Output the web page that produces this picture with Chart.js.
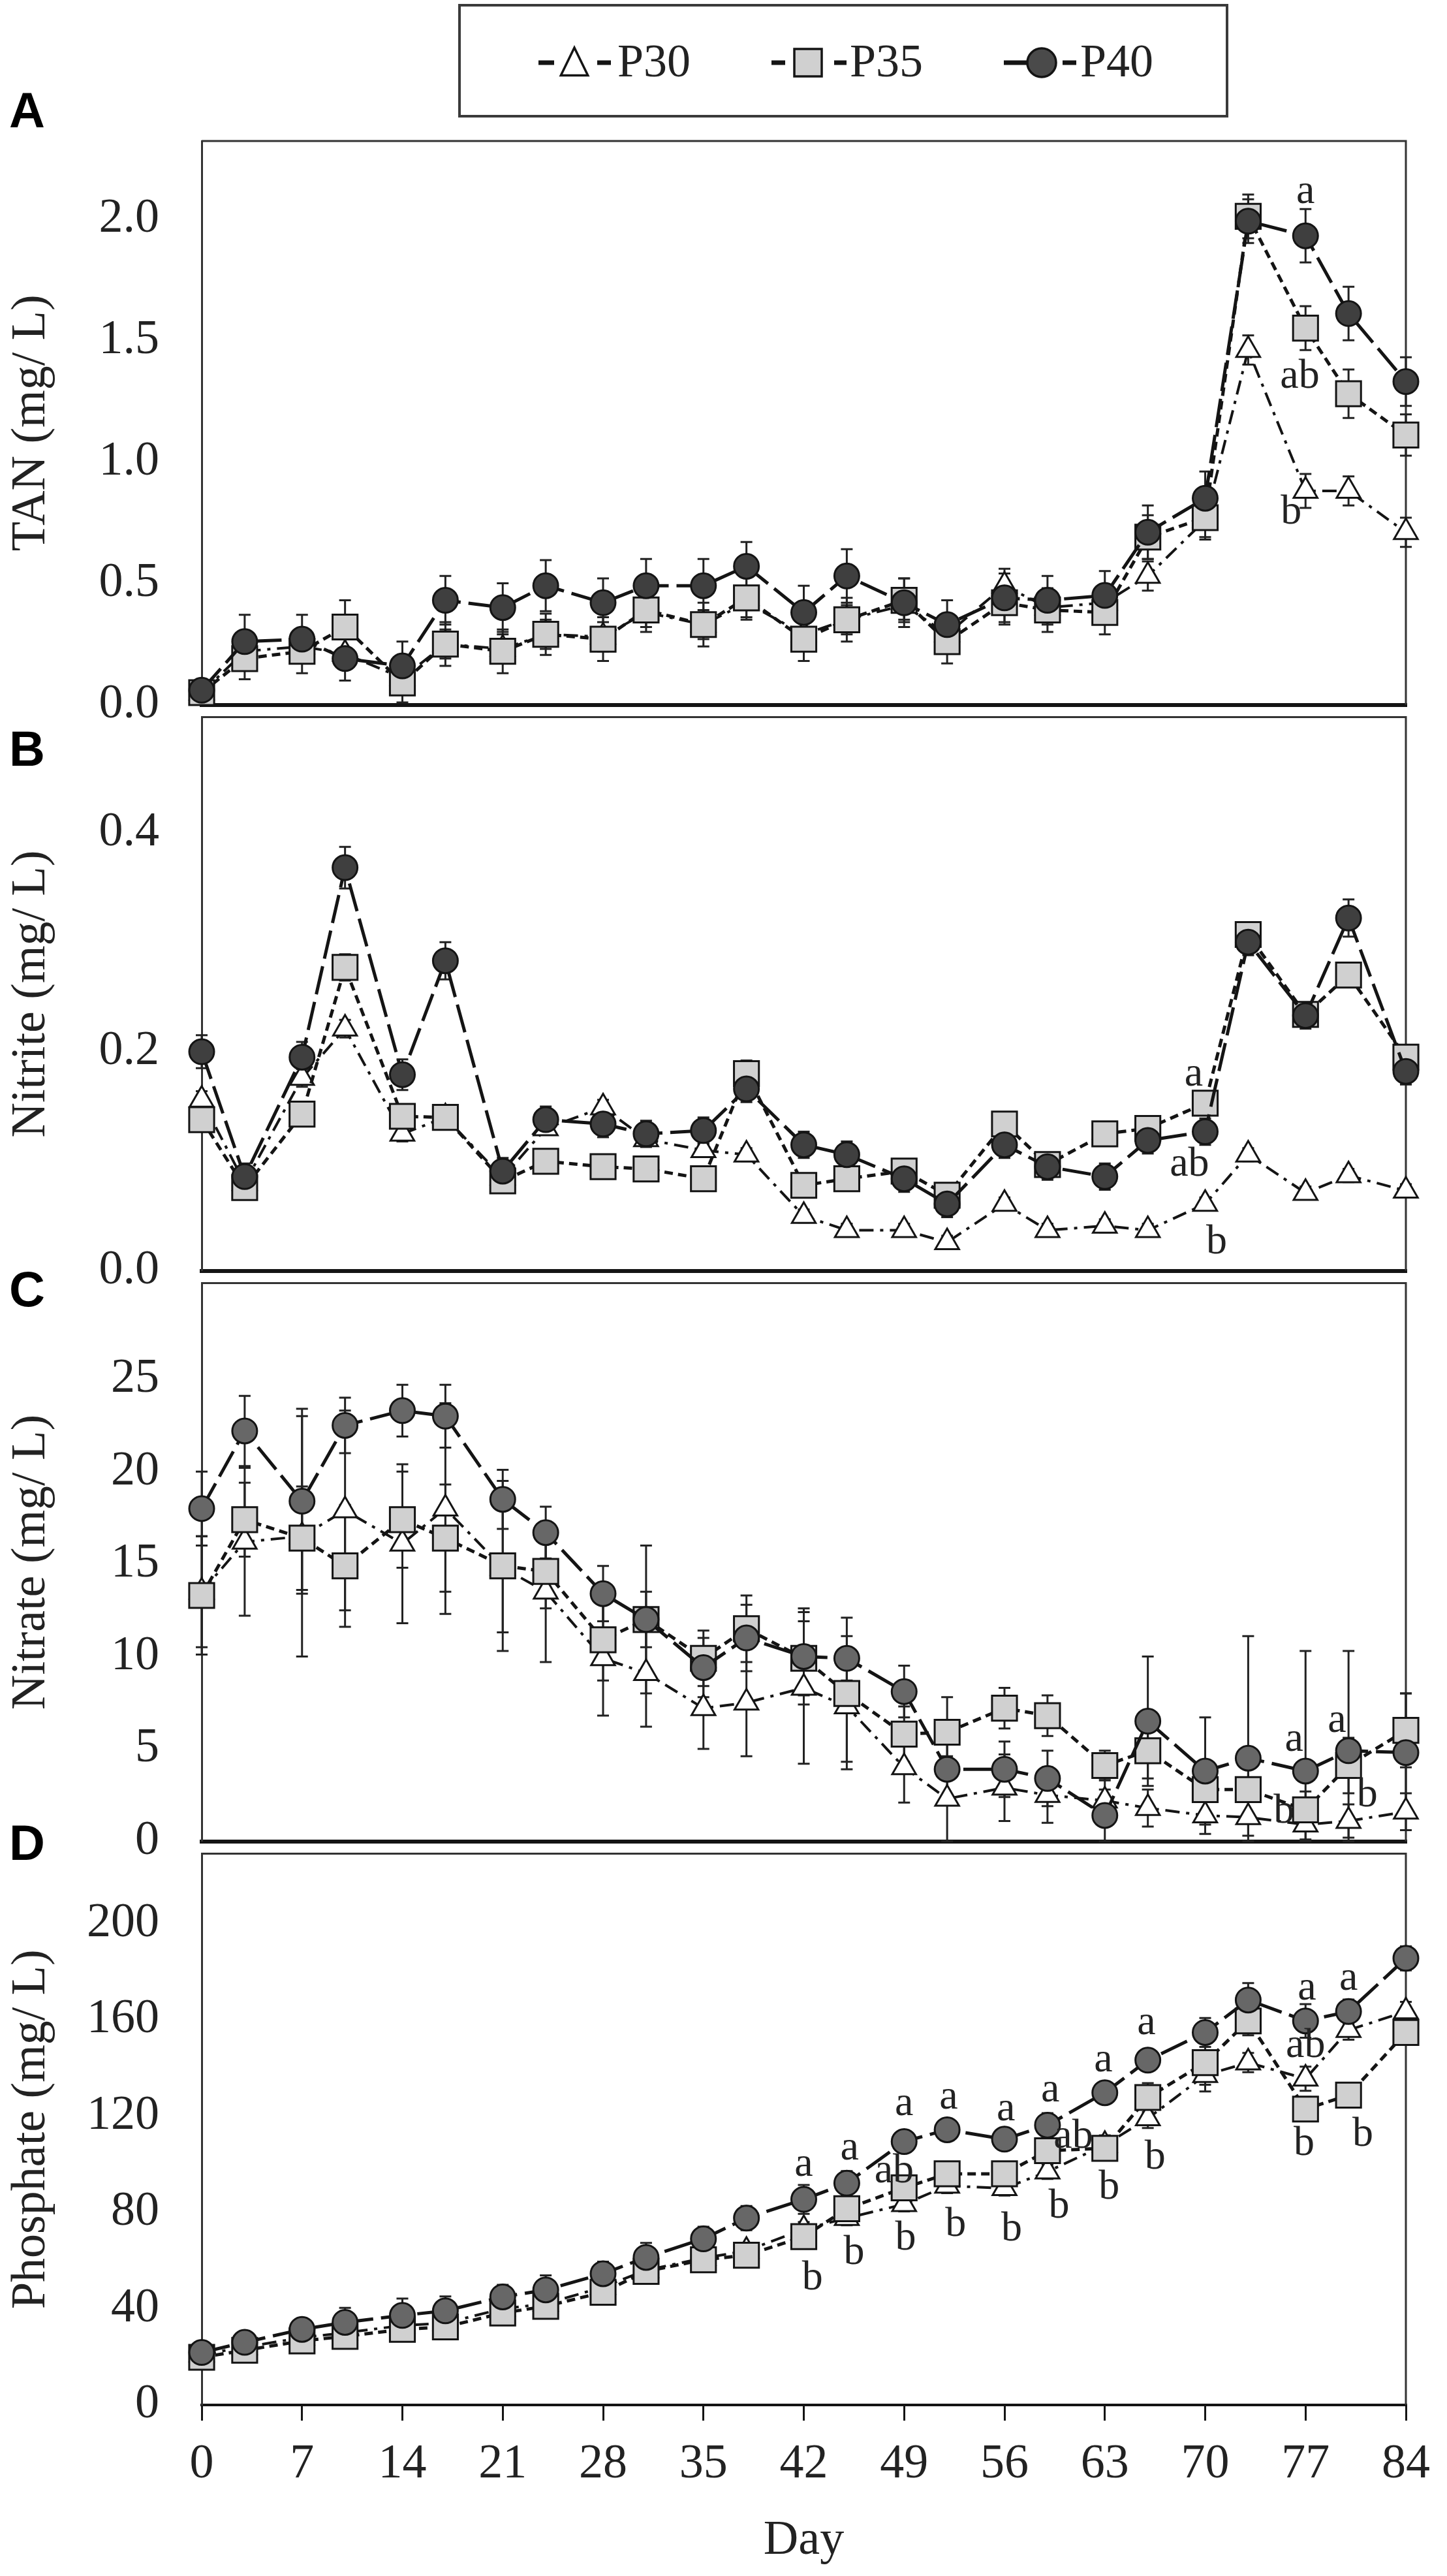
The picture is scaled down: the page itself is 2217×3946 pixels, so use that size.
<!DOCTYPE html>
<html lang="en">
<head>
    <meta charset="UTF-8">
    <title>TAN, nitrite, nitrate and phosphate over 84 days</title>
    <script src="https://cdn.jsdelivr.net/npm/chart.js@4.4.1/dist/chart.umd.min.js"></script>
    <style>
        * { margin: 0; padding: 0; box-sizing: border-box; }
        body { background: #fff; }
        #page { position: relative; width: 2217px; height: 3946px; overflow: hidden; background: #fff; }
        #page canvas { position: absolute; left: 0; }
    </style>
</head>
<body>
<div id="page"></div>
<script>
    // sampling days (x) and axis ticks
    const days = [0, 3, 7, 10, 14, 17, 21, 24, 28, 31, 35, 38, 42, 45, 49, 52, 56, 59, 63, 66, 70, 73, 77, 80, 84];
    const dayTicks = [0, 7, 14, 21, 28, 35, 42, 49, 56, 63, 70, 77, 84];
    const seriesNames = ['P30', 'P35', 'P40'];

    // A - TAN (mg/L)
    const tanTicks = [0, 0.5, 1, 1.5, 2];
    const tanP30 = [0.05, 0.22, 0.24, 0.21, 0.11, 0.25, 0.23, 0.29, 0.28, 0.38, 0.33, 0.42, 0.29, 0.35, 0.41, 0.29, 0.49, 0.40, 0.42, 0.53, 0.76, 1.46, 0.88, 0.88, 0.71];
    const tanP35 = [0.05, 0.19, 0.22, 0.32, 0.09, 0.25, 0.22, 0.29, 0.27, 0.39, 0.33, 0.44, 0.27, 0.35, 0.43, 0.26, 0.42, 0.39, 0.38, 0.69, 0.77, 2.01, 1.55, 1.28, 1.11];
    const tanP40 = [0.06, 0.26, 0.27, 0.19, 0.16, 0.43, 0.40, 0.49, 0.42, 0.49, 0.49, 0.57, 0.38, 0.53, 0.42, 0.33, 0.44, 0.43, 0.45, 0.71, 0.85, 1.99, 1.93, 1.61, 1.33];
    const tanErr30 = [0.03, 0.06, 0.06, 0.06, 0.05, 0.06, 0.06, 0.06, 0.06, 0.06, 0.06, 0.06, 0.06, 0.06, 0.06, 0.06, 0.07, 0.06, 0.06, 0.06, 0.07, 0.06, 0.07, 0.06, 0.06];
    const tanErr35 = [0.03, 0.085, 0.09, 0.11, 0.08, 0.09, 0.09, 0.085, 0.09, 0.09, 0.09, 0.09, 0.09, 0.09, 0.09, 0.09, 0.09, 0.09, 0.09, 0.09, 0.09, 0.09, 0.09, 0.10, 0.085];
    const tanErr40 = [0.04, 0.11, 0.10, 0.09, 0.10, 0.10, 0.10, 0.105, 0.10, 0.11, 0.11, 0.10, 0.11, 0.11, 0.10, 0.10, 0.10, 0.10, 0.10, 0.11, 0.11, 0.09, 0.11, 0.11, 0.10];
    const tanLetters = [
        { day: 77, value: 2.11, text: 'a' },
        { day: 76.6, value: 1.35, text: 'ab' },
        { day: 76, value: 0.79, text: 'b' }
    ];

    // B - Nitrite (mg/L)
    const nitriteTicks = [0, 0.2, 0.4];
    const nitriteP30 = [0.156, 0.080, 0.176, 0.221, 0.125, 0.140, 0.085, 0.130, 0.149, 0.120, 0.110, 0.106, 0.050, 0.037, 0.037, 0.026, 0.061, 0.037, 0.041, 0.037, 0.061, 0.106, 0.071, 0.087, 0.073];
    const nitriteP35 = [0.138, 0.076, 0.143, 0.277, 0.141, 0.140, 0.082, 0.100, 0.095, 0.093, 0.084, 0.180, 0.078, 0.084, 0.091, 0.069, 0.134, 0.097, 0.125, 0.130, 0.153, 0.307, 0.234, 0.270, 0.195];
    const nitriteP40 = [0.200, 0.086, 0.195, 0.368, 0.179, 0.283, 0.091, 0.138, 0.134, 0.125, 0.128, 0.166, 0.115, 0.106, 0.084, 0.061, 0.115, 0.095, 0.086, 0.119, 0.127, 0.300, 0.233, 0.322, 0.182];
    const nitriteErr30 = [0.008, 0.006, 0.008, 0.008, 0.007, 0.006, 0.006, 0.006, 0.007, 0.006, 0.006, 0.006, 0.006, 0.006, 0.006, 0.006, 0.006, 0.006, 0.006, 0.006, 0.006, 0.006, 0.006, 0.006, 0.006];
    const nitriteErr35 = [0.010, 0.010, 0.010, 0.012, 0.010, 0.010, 0.010, 0.010, 0.010, 0.010, 0.010, 0.012, 0.010, 0.010, 0.010, 0.010, 0.010, 0.010, 0.010, 0.010, 0.010, 0.010, 0.010, 0.010, 0.010];
    const nitriteErr40 = [0.015, 0.012, 0.014, 0.019, 0.014, 0.017, 0.012, 0.012, 0.012, 0.012, 0.012, 0.012, 0.012, 0.012, 0.012, 0.012, 0.012, 0.012, 0.012, 0.012, 0.012, 0.012, 0.012, 0.017, 0.012];
    const nitriteLetters = [
        { day: 69.2, value: 0.179, text: 'a' },
        { day: 68.9, value: 0.097, text: 'ab' },
        { day: 70.8, value: 0.026, text: 'b' }
    ];

    // C - Nitrate (mg/L)
    const nitrateTicks = [0, 5, 10, 15, 20, 25];
    const nitrateP30 = [13.5, 16.2, 16.5, 17.9, 16.1, 18.0, 14.8, 13.5, 9.9, 9.1, 7.2, 7.5, 8.3, 7.3, 4.0, 2.3, 2.9, 2.5, 2.2, 1.8, 1.4, 1.3, 0.9, 1.1, 1.6];
    const nitrateP35 = [13.3, 17.4, 16.4, 14.9, 17.4, 16.4, 14.9, 14.6, 10.9, 12.0, 9.9, 11.5, 9.9, 8.0, 5.8, 5.9, 7.2, 6.8, 4.1, 4.9, 2.8, 2.8, 1.7, 4.1, 6.0];
    const nitrateP40 = [18.0, 22.2, 18.4, 22.5, 23.3, 23.0, 18.5, 16.7, 13.4, 12.0, 9.4, 11.0, 10.0, 9.9, 8.1, 3.9, 3.9, 3.4, 1.4, 6.5, 3.8, 4.5, 3.8, 4.9, 4.8];
    const nitrateErr30 = [3.0, 4.0, 6.5, 5.4, 4.3, 5.7, 3.5, 3.8, 3.1, 2.9, 2.2, 2.9, 4.1, 3.0, 1.9, 2.3, 1.8, 1.5, 1.2, 1.0, 1.0, 1.0, 0.8, 0.9, 1.0];
    const nitrateErr35 = [3.2, 2.0, 2.8, 3.3, 2.6, 2.9, 4.6, 2.0, 2.2, 4.0, 1.5, 1.8, 2.0, 4.1, 1.5, 1.9, 1.1, 1.1, 0.8, 1.5, 1.2, 1.5, 1.0, 1.5, 2.0];
    const nitrateErr40 = [2.0, 1.9, 5.0, 1.5, 1.4, 1.7, 1.6, 1.4, 1.5, 1.5, 1.6, 1.8, 2.6, 1.2, 1.4, 1.5, 1.5, 1.5, 1.4, 3.5, 2.9, 6.6, 6.5, 5.4, 3.2];
    const nitrateLetters = [
        { day: 76.2, value: 5.5, text: 'a' },
        { day: 79.2, value: 6.5, text: 'a' },
        { day: 75.5, value: 1.6, text: 'b' },
        { day: 81.3, value: 2.5, text: 'b' }
    ];

    // D - Phosphate (mg/L)
    const phosphateTicks = [0, 40, 80, 120, 160, 200];
    const phosphateP30 = [21, 24, 28, 30, 33, 34, 40, 42, 49, 56, 61, 64, 73, 77.6, 83.4, 91, 90, 96.9, 108, 119, 137, 142.2, 135.5, 155.7, 163.4];
    const phosphateP35 = [19.8, 22.7, 26.6, 28.5, 31.4, 32.4, 38.2, 41.0, 46.8, 55.5, 60.3, 62.2, 69.9, 81.5, 90.2, 96.0, 96.0, 105.6, 106.6, 127.7, 142.2, 159.5, 122.9, 128.7, 154.7];
    const phosphateP40 = [21.8, 26.0, 31.4, 34.3, 37.2, 39.1, 44.9, 47.8, 54.5, 61.3, 69.0, 77.6, 85.4, 92.1, 109.4, 114.3, 110.4, 116.2, 129.7, 143.2, 154.7, 168.2, 159.5, 163.4, 185.5];
    const phosphateErr30 = [2, 2, 3, 3, 3, 3, 3, 3, 3, 3, 3, 3, 3, 3, 3, 3, 3, 3, 4, 4, 4, 4, 5, 4, 4];
    const phosphateErr35 = [2, 3, 3, 3, 4, 4, 4, 4, 5, 4, 4, 4, 4, 4, 4, 4, 4, 4, 4, 6, 12, 6, 5, 4, 4];
    const phosphateErr40 = [3, 3, 4, 6, 7, 6, 5, 6, 5, 6, 5, 5, 6, 5, 4, 4, 4, 5, 4, 4, 6, 7, 7, 5, 5];
    const phosphateLetters = [
        { day: 42.0, value: 99.8, text: 'a' },   { day: 42.6, value: 52.6, text: 'b' },
        { day: 45.2, value: 106.6, text: 'a' },  { day: 45.5, value: 63.2, text: 'b' },
        { day: 48.3, value: 96.9, text: 'ab' },  { day: 49.0, value: 124.9, text: 'a' },
        { day: 49.1, value: 69.0, text: 'b' },   { day: 52.1, value: 127.7, text: 'a' },
        { day: 52.6, value: 74.8, text: 'b' },   { day: 56.1, value: 122.9, text: 'a' },
        { day: 56.5, value: 72.8, text: 'b' },   { day: 59.2, value: 130.6, text: 'a' },
        { day: 60.8, value: 111.4, text: 'ab' }, { day: 59.8, value: 82.5, text: 'b' },
        { day: 62.9, value: 143.2, text: 'a' },  { day: 63.3, value: 90.2, text: 'b' },
        { day: 65.9, value: 158.6, text: 'a' },  { day: 66.5, value: 102.7, text: 'b' },
        { day: 77.1, value: 173.0, text: 'a' },  { day: 77.0, value: 149.0, text: 'ab' },
        { day: 76.9, value: 108.5, text: 'b' },  { day: 80.0, value: 176.9, text: 'a' },
        { day: 81.0, value: 112.3, text: 'b' }
    ];

    // ---- look ----
    const SERIF = "'Liberation Serif', 'Times New Roman', serif";
    const SANS = "'Liberation Sans', Arial, sans-serif";
    const TEXT = '#222';
    const INK = '#141414';
    const PAGE_W = 2217, PAGE_H = 3946;
    const PLOT_LEFT = 309, PLOT_RIGHT = 2154;

    Chart.defaults.font.family = SERIF;
    Chart.defaults.color = TEXT;

    const seriesStyles = [
        { borderColor: INK, borderWidth: 4, borderDash: [22, 10, 5, 10], pointStyle: 'triangle', pointRadius: 21,
          pointBackgroundColor: '#ffffff', pointBorderColor: INK, pointBorderWidth: 3, order: 3 },
        { borderColor: INK, borderWidth: 5, borderDash: [13, 8], pointStyle: 'rect', pointRadius: 27,
          pointBackgroundColor: '#d0d0d0', pointBorderColor: INK, pointBorderWidth: 3, order: 2 },
        { borderColor: INK, borderWidth: 5, borderDash: [44, 12], pointStyle: 'circle', pointRadius: 19,
          pointBackgroundColor: '#4a4a4a', pointBorderColor: INK, pointBorderWidth: 3, order: 1 }
    ];

    const panels = [
        { key: 'A', title: 'TAN (mg/ L)', top: 216, bottom: 1089, canvasTop: 0, canvasBottom: 1189, max: 2.32,
          ticks: tanTicks, decimals: 1, values: [tanP30, tanP35, tanP40], circleFill: '#3f3f3f',
          errors: [tanErr30, tanErr35, tanErr40], letters: tanLetters, letterY: 174 },
        { key: 'B', title: 'Nitrite (mg/ L)', top: 1089, bottom: 1956, canvasTop: 989, canvasBottom: 2056, max: 0.5055,
          ticks: nitriteTicks, decimals: 1, values: [nitriteP30, nitriteP35, nitriteP40], circleFill: '#3f3f3f',
          errors: [nitriteErr30, nitriteErr35, nitriteErr40], letters: nitriteLetters, letterY: 1152 },
        { key: 'C', title: 'Nitrate (mg/ L)', top: 1956, bottom: 2830, canvasTop: 1856, canvasBottom: 2930, max: 30.2,
          ticks: nitrateTicks, decimals: 0, values: [nitrateP30, nitrateP35, nitrateP40], circleFill: '#676767',
          errors: [nitrateErr30, nitrateErr35, nitrateErr40], letters: nitrateLetters, letterY: 1980 },
        { key: 'D', title: 'Phosphate (mg/ L)', top: 2830, bottom: 3684, canvasTop: 2730, canvasBottom: PAGE_H, max: 229,
          ticks: phosphateTicks, decimals: 0, values: [phosphateP30, phosphateP35, phosphateP40], circleFill: '#676767',
          errors: [phosphateErr30, phosphateErr35, phosphateErr40], letters: phosphateLetters, letterY: 2828 }
    ];

    // legend drawn on the first panel: dash pieces either side of the marker, then the name
    const legendItems = [
        { name: 'P30', style: 'triangle', fill: '#ffffff', mx: 880, left: [825, 849], right: [915, 936], tx: 946 },
        { name: 'P35', style: 'rect', fill: '#d0d0d0', mx: 1238, left: [1182, 1203], right: [1278, 1297], tx: 1302 },
        { name: 'P40', style: 'circle', fill: '#4a4a4a', mx: 1596, left: [1538, 1574], right: [1628, 1649], tx: 1655 }
    ];

    function drawMarker(ctx, style, x, y, size, fill) {
        ctx.beginPath();
        if (style === 'circle') {
            ctx.arc(x, y, size, 0, Math.PI * 2);
        } else if (style === 'rect') {
            ctx.rect(x - size, y - size, size * 2, size * 2);
        } else {
            ctx.moveTo(x, y - size);
            ctx.lineTo(x + size * 0.9, y + size * 0.85);
            ctx.lineTo(x - size * 0.9, y + size * 0.85);
            ctx.closePath();
        }
        ctx.fillStyle = fill;
        ctx.fill();
        ctx.lineWidth = 3.5;
        ctx.strokeStyle = INK;
        ctx.stroke();
    }

    function makeDecor(panel, index) {
        return {
            id: 'panelDecor' + index,
            beforeDatasetsDraw(chart) {
                const { ctx, chartArea: a, scales: { x, y } } = chart;
                ctx.save();
                // top and right edges of the frame
                ctx.strokeStyle = '#333';
                ctx.lineWidth = 3;
                ctx.beginPath();
                ctx.moveTo(a.left, a.top);
                ctx.lineTo(a.right, a.top);
                ctx.lineTo(a.right, a.bottom);
                ctx.stroke();
                // error bars
                ctx.strokeStyle = '#222';
                ctx.lineWidth = 3;
                chart.data.datasets.forEach(ds => {
                    ds.errorBars.forEach((e, i) => {
                        const pt = ds.data[i];
                        const px = x.getPixelForValue(pt.x);
                        const lo = y.getPixelForValue(Math.max(0, pt.y - e));
                        const hi = y.getPixelForValue(Math.min(y.max, pt.y + e));
                        ctx.beginPath();
                        ctx.moveTo(px, lo); ctx.lineTo(px, hi);
                        ctx.moveTo(px - 9, lo); ctx.lineTo(px + 9, lo);
                        ctx.moveTo(px - 9, hi); ctx.lineTo(px + 9, hi);
                        ctx.stroke();
                    });
                });
                ctx.restore();
            },
            afterDatasetsDraw(chart) {
                const { ctx, scales: { x, y } } = chart;
                ctx.save();
                ctx.font = '64px ' + SERIF;
                ctx.fillStyle = TEXT;
                ctx.textAlign = 'center';
                ctx.textBaseline = 'middle';
                panel.letters.forEach(l => {
                    ctx.fillText(l.text, x.getPixelForValue(l.day), y.getPixelForValue(l.value));
                });
                ctx.restore();
            },
            afterDraw(chart) {
                const ctx = chart.ctx;
                ctx.save();
                ctx.font = 'bold 76px ' + SANS;
                ctx.fillStyle = '#000';
                ctx.textAlign = 'left';
                ctx.textBaseline = 'middle';
                ctx.fillText(panel.key, 14, panel.letterY - panel.canvasTop);
                if (index === 0) {
                    ctx.strokeStyle = '#3a3a3a';
                    ctx.lineWidth = 4;
                    ctx.strokeRect(704, 8, 1176, 170);
                    const ly = 96;
                    legendItems.forEach(item => {
                        ctx.strokeStyle = INK;
                        ctx.lineWidth = 7;
                        ctx.beginPath();
                        ctx.moveTo(item.left[0], ly); ctx.lineTo(item.left[1], ly);
                        ctx.moveTo(item.right[0], ly); ctx.lineTo(item.right[1], ly);
                        ctx.stroke();
                        const size = item.style === 'triangle' ? 23 : (item.style === 'rect' ? 21 : 22);
                        drawMarker(ctx, item.style, item.mx, ly, size, item.fill);
                        ctx.font = '72px ' + SERIF;
                        ctx.fillStyle = TEXT;
                        ctx.textAlign = 'left';
                        ctx.textBaseline = 'middle';
                        ctx.fillText(item.name, item.tx, ly + 2);
                    });
                }
                ctx.restore();
            }
        };
    }

    const page = document.getElementById('page');

    panels.forEach((p, index) => {
        const last = index === panels.length - 1;
        const canvas = document.createElement('canvas');
        const h = p.canvasBottom - p.canvasTop;
        canvas.width = PAGE_W;
        canvas.height = h;
        canvas.style.top = p.canvasTop + 'px';
        page.appendChild(canvas);

        const padTop = p.top - p.canvasTop;
        const xAxisH = last ? 253 : 0;
        const padBottom = h - (p.bottom - p.canvasTop) - xAxisH;

        new Chart(canvas, {
            type: 'line',
            data: {
                datasets: seriesStyles.map((s, k) => Object.assign({}, s, {
                    label: seriesNames[k],
                    data: days.map((d, i) => ({ x: d, y: p.values[k][i] })),
                    errorBars: p.errors[k],
                    pointBackgroundColor: k === 2 ? p.circleFill : s.pointBackgroundColor,
                    tension: 0,
                    clip: false
                }))
            },
            options: {
                responsive: false,
                devicePixelRatio: 1,
                animation: false,
                events: [],
                layout: { padding: { top: padTop, bottom: padBottom, left: 0, right: PAGE_W - PLOT_RIGHT } },
                plugins: { legend: { display: false }, tooltip: { enabled: false } },
                scales: {
                    x: {
                        type: 'linear', min: 0, max: 84,
                        afterBuildTicks: s => { s.ticks = dayTicks.map(v => ({ value: v })); },
                        afterFit: s => { s.height = xAxisH; },
                        border: { display: true, color: INK, width: last ? 4 : 6 },
                        grid: { display: last, drawOnChartArea: false, drawTicks: last, tickLength: 24, color: INK, lineWidth: 3 },
                        ticks: { display: last, autoSkip: false, maxRotation: 0, padding: 23, color: TEXT, font: { size: 74 } },
                        title: { display: last, text: 'Day', color: TEXT, font: { size: 74 }, padding: 0 }
                    },
                    y: {
                        type: 'linear', min: 0, max: p.max,
                        afterBuildTicks: s => { s.ticks = p.ticks.map(v => ({ value: v })); },
                        afterFit: s => { s.width = PLOT_LEFT; },
                        border: { display: true, color: '#333', width: 3 },
                        grid: { display: false, drawTicks: false },
                        ticks: { padding: 65, color: TEXT, font: { size: 74 }, callback: v => Number(v).toFixed(p.decimals) },
                        title: { display: true, text: p.title, color: TEXT, font: { size: 74 }, padding: { top: 4, bottom: 0 } }
                    }
                }
            },
            plugins: [makeDecor(p, index)]
        });
    });
</script>
</body>
</html>
